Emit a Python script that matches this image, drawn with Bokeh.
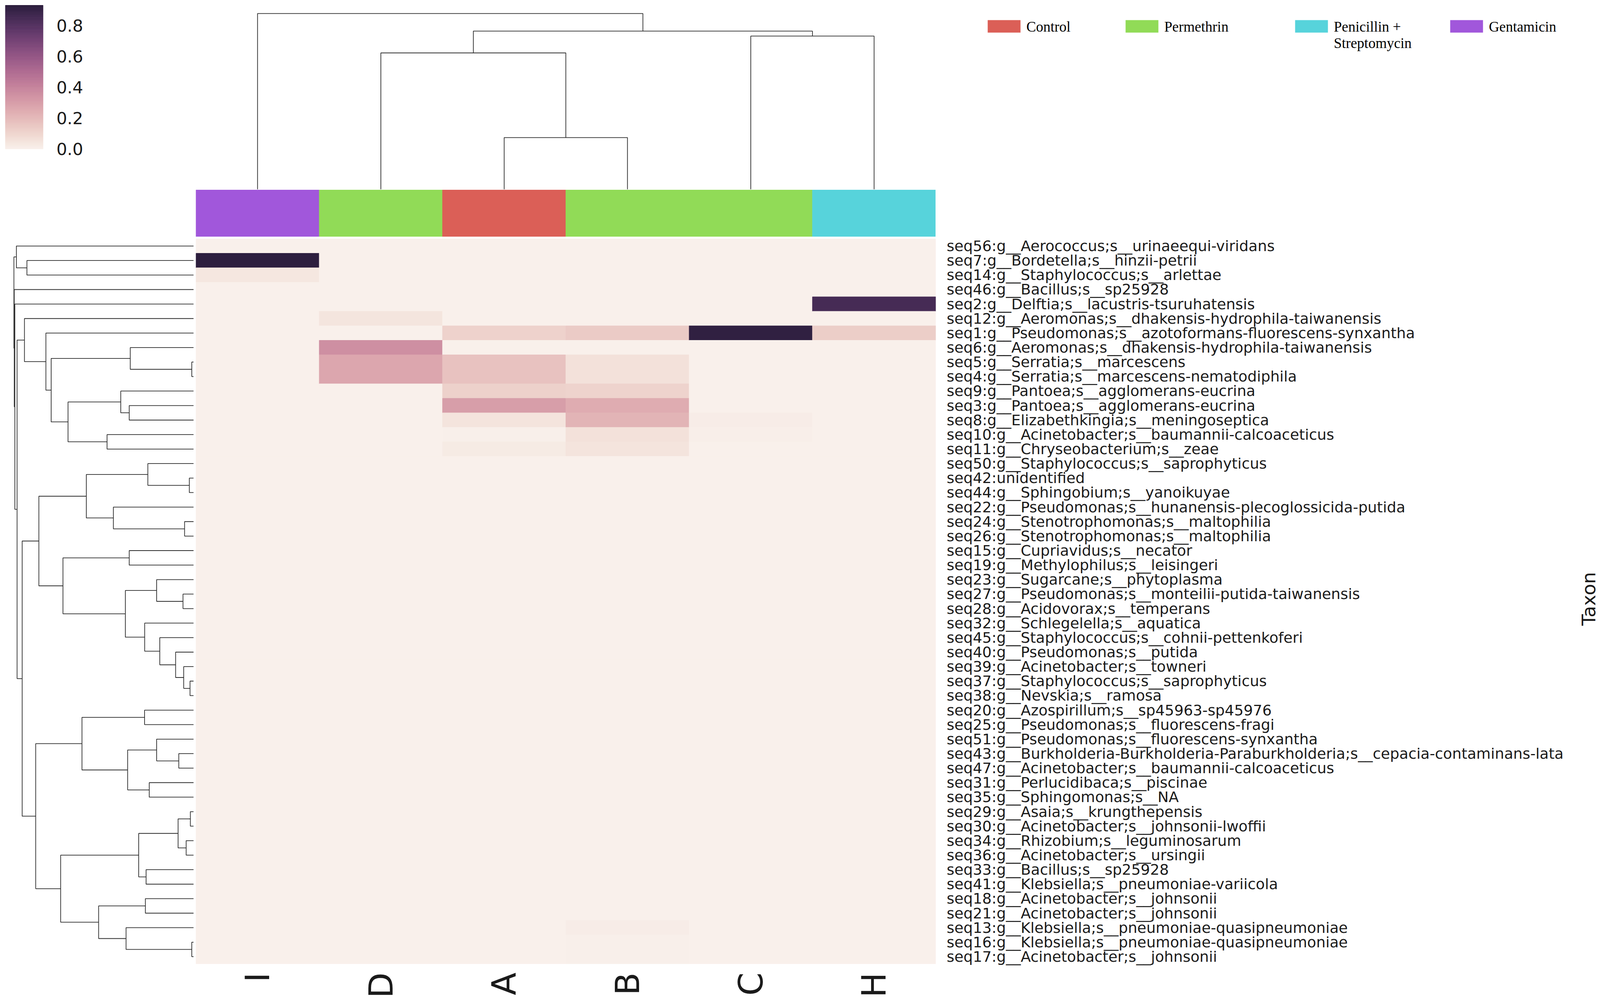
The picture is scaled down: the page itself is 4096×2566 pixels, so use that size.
import math
import numpy as np
from bokeh.plotting import figure
from bokeh.models import (Range1d, FactorRange, FixedTicker, PrintfTickFormatter,
                          ColumnDataSource, LinearColorMapper)
from bokeh.transform import transform
from bokeh.layouts import row, column
from bokeh.embed import file_html
from bokeh.resources import INLINE

# ---------------- data ----------------
samples = ["I", "D", "A", "B", "C", "H"]
sample_group = ["Gentamicin", "Permethrin", "Control", "Permethrin", "Permethrin",
                "Penicillin + Streptomycin"]
groups = ["Control", "Permethrin", "Penicillin + Streptomycin", "Gentamicin"]
group_labels = ["Control", "Permethrin", "Penicillin +\nStreptomycin", "Gentamicin"]
group_colors = ["#db5f57", "#91db57", "#57d3db", "#a157db"]

taxa = [
    "seq56:g__Aerococcus;s__urinaeequi-viridans",
    "seq7:g__Bordetella;s__hinzii-petrii",
    "seq14:g__Staphylococcus;s__arlettae",
    "seq46:g__Bacillus;s__sp25928",
    "seq2:g__Delftia;s__lacustris-tsuruhatensis",
    "seq12:g__Aeromonas;s__dhakensis-hydrophila-taiwanensis",
    "seq1:g__Pseudomonas;s__azotoformans-fluorescens-synxantha",
    "seq6:g__Aeromonas;s__dhakensis-hydrophila-taiwanensis",
    "seq5:g__Serratia;s__marcescens",
    "seq4:g__Serratia;s__marcescens-nematodiphila",
    "seq9:g__Pantoea;s__agglomerans-eucrina",
    "seq3:g__Pantoea;s__agglomerans-eucrina",
    "seq8:g__Elizabethkingia;s__meningoseptica",
    "seq10:g__Acinetobacter;s__baumannii-calcoaceticus",
    "seq11:g__Chryseobacterium;s__zeae",
    "seq50:g__Staphylococcus;s__saprophyticus",
    "seq42:unidentified",
    "seq44:g__Sphingobium;s__yanoikuyae",
    "seq22:g__Pseudomonas;s__hunanensis-plecoglossicida-putida",
    "seq24:g__Stenotrophomonas;s__maltophilia",
    "seq26:g__Stenotrophomonas;s__maltophilia",
    "seq15:g__Cupriavidus;s__necator",
    "seq19:g__Methylophilus;s__leisingeri",
    "seq23:g__Sugarcane;s__phytoplasma",
    "seq27:g__Pseudomonas;s__monteilii-putida-taiwanensis",
    "seq28:g__Acidovorax;s__temperans",
    "seq32:g__Schlegelella;s__aquatica",
    "seq45:g__Staphylococcus;s__cohnii-pettenkoferi",
    "seq40:g__Pseudomonas;s__putida",
    "seq39:g__Acinetobacter;s__towneri",
    "seq37:g__Staphylococcus;s__saprophyticus",
    "seq38:g__Nevskia;s__ramosa",
    "seq20:g__Azospirillum;s__sp45963-sp45976",
    "seq25:g__Pseudomonas;s__fluorescens-fragi",
    "seq51:g__Pseudomonas;s__fluorescens-synxantha",
    "seq43:g__Burkholderia-Burkholderia-Paraburkholderia;s__cepacia-contaminans-lata",
    "seq47:g__Acinetobacter;s__baumannii-calcoaceticus",
    "seq31:g__Perlucidibaca;s__piscinae",
    "seq35:g__Sphingomonas;s__NA",
    "seq29:g__Asaia;s__krungthepensis",
    "seq30:g__Acinetobacter;s__johnsonii-lwoffii",
    "seq34:g__Rhizobium;s__leguminosarum",
    "seq36:g__Acinetobacter;s__ursingii",
    "seq33:g__Bacillus;s__sp25928",
    "seq41:g__Klebsiella;s__pneumoniae-variicola",
    "seq18:g__Acinetobacter;s__johnsonii",
    "seq21:g__Acinetobacter;s__johnsonii",
    "seq13:g__Klebsiella;s__pneumoniae-quasipneumoniae",
    "seq16:g__Klebsiella;s__pneumoniae-quasipneumoniae",
    "seq17:g__Acinetobacter;s__johnsonii",
]

# relative abundance per sample (rows in taxa order)
abund_I = [0, 0.933, 0.04, 0, 0, 0, 0, 0, 0, 0,
           0, 0, 0, 0, 0, 0, 0, 0, 0, 0,
           0, 0, 0, 0, 0, 0, 0, 0, 0, 0,
           0, 0, 0, 0, 0, 0, 0, 0, 0, 0,
           0, 0, 0, 0, 0, 0, 0, 0, 0, 0]
abund_D = [0, 0, 0, 0, 0, 0.045, 0, 0.36, 0.27, 0.27,
           0, 0, 0, 0, 0, 0, 0, 0, 0, 0,
           0, 0, 0, 0, 0, 0, 0, 0, 0, 0,
           0, 0, 0, 0, 0, 0, 0, 0, 0, 0,
           0, 0, 0, 0, 0, 0, 0, 0, 0, 0]
abund_A = [0, 0, 0, 0, 0, 0, 0.115, 0, 0.17, 0.17,
           0.12, 0.30, 0.05, 0.005, 0.025, 0, 0, 0, 0, 0,
           0, 0, 0, 0, 0, 0, 0, 0, 0, 0,
           0, 0, 0, 0, 0, 0, 0, 0, 0, 0,
           0, 0, 0, 0, 0, 0, 0, 0, 0, 0]
abund_B = [0, 0, 0, 0, 0, 0, 0.14, 0, 0.06, 0.06,
           0.11, 0.25, 0.22, 0.06, 0.05, 0, 0, 0, 0, 0,
           0, 0, 0, 0, 0, 0, 0, 0, 0, 0,
           0, 0, 0, 0, 0, 0, 0, 0, 0, 0,
           0, 0, 0, 0, 0, 0, 0, 0.015, 0.005, 0.005]
abund_C = [0, 0, 0, 0, 0, 0, 0.92, 0, 0, 0,
           0, 0, 0.015, 0.01, 0, 0, 0, 0, 0, 0,
           0, 0, 0, 0, 0, 0, 0, 0, 0, 0,
           0, 0, 0, 0, 0, 0, 0, 0, 0, 0,
           0, 0, 0, 0, 0, 0, 0, 0, 0, 0]
abund_H = [0, 0, 0, 0, 0.85, 0, 0.13, 0, 0, 0,
           0, 0, 0, 0, 0, 0, 0, 0, 0, 0,
           0, 0, 0, 0, 0, 0, 0, 0, 0, 0,
           0, 0, 0, 0, 0, 0, 0, 0, 0, 0,
           0, 0, 0, 0, 0, 0, 0, 0, 0, 0]
abundance = [abund_I, abund_D, abund_A, abund_B, abund_C, abund_H]

# column linkage (child_a, child_b, height); leaves 0..5 in display order
col_linkage = [(2, 3, 147), (1, 6, 388), (4, 5, 436), (7, 8, 450), (0, 9, 500)]

# row linkage (child_a, child_b, height); leaves 0..49 in display order
row_linkage = [
    (8, 9, 5), (7, 50, 180), (11, 12, 183), (10, 52, 207), (13, 14, 246),
    (53, 54, 357), (51, 55, 405), (6, 56, 420), (5, 57, 481), (16, 17, 12),
    (15, 59, 130), (19, 20, 25.5), (18, 61, 228), (60, 62, 305), (21, 22, 183),
    (24, 25, 30), (23, 65, 105), (30, 31, 10), (29, 67, 28), (28, 68, 51),
    (27, 69, 96), (26, 70, 139), (66, 71, 194), (64, 72, 371.4), (63, 73, 440),
    (32, 33, 139.3), (35, 36, 42), (34, 76, 105), (37, 38, 126), (77, 78, 187.5),
    (75, 79, 317.4), (39, 40, 9), (41, 42, 21), (81, 82, 44), (43, 44, 135),
    (83, 84, 156), (45, 46, 137), (48, 49, 5), (47, 87, 192), (86, 88, 270),
    (85, 89, 378), (80, 90, 449), (74, 91, 487.5), (58, 92, 502), (4, 93, 508.3),
    (3, 94, 510), (1, 2, 474), (0, 96, 504), (97, 95, 511),
]

cbar_ticks = [0.0, 0.2, 0.4, 0.6, 0.8]
y_title = "Taxon"

# ---------------- helpers ----------------
def cubehelix(n, start=0.0, rot=0.4, gamma=1.0, hue=0.8, light=0.95, dark=0.15):
    x = np.linspace(light, dark, n)
    xg = x ** gamma
    a = hue * xg * (1 - xg) / 2
    phi = 2 * np.pi * (start / 3 + rot * x)
    r = xg + a * (-0.14861 * np.cos(phi) + 1.78277 * np.sin(phi))
    g = xg + a * (-0.29227 * np.cos(phi) - 0.90649 * np.sin(phi))
    b = xg + a * (1.97294 * np.cos(phi))
    out = []
    for rr, gg, bb in zip(r, g, b):
        out.append("#%02x%02x%02x" % tuple(int(round(255 * min(max(c, 0), 1))) for c in (rr, gg, bb)))
    return out


def dendro_lines(n, linkage):
    pos = {i: i + 0.5 for i in range(n)}
    hgt = {i: 0.0 for i in range(n)}
    ps, hs = [], []
    for k, (a, b, h) in enumerate(linkage):
        pa, pb = pos[a], pos[b]
        ps.append([pa, pa, pb, pb])
        hs.append([hgt[a], h, h, hgt[b]])
        pos[n + k] = (pa + pb) / 2
        hgt[n + k] = h
    return ps, hs


def bare(p):
    p.outline_line_color = None
    p.background_fill_color = "white"
    p.border_fill_color = "white"
    p.xgrid.visible = False
    p.ygrid.visible = False
    return p


palette = cubehelix(256)
vmax = max(max(c) for c in abundance)
mapper = LinearColorMapper(palette=palette, low=0, high=vmax)

TXT = "#1a1a1a"
LINE = "#2b2b2b"
TOTAL_W = 4096
ROW1_H, ROW2_H = 606, 1952
LEFT_W, FRAME_W = 501, 1894
TOP_B, BOT_B = 5, 90
FRAME_H = ROW2_H - TOP_B - BOT_B
TAX_W = 80

# ---------------- colour bar ----------------
cb_top_px, cb_bot_px = 13, 381
per_px = vmax / (cb_bot_px - cb_top_px)
cb = figure(width=LEFT_W, height=ROW1_H, output_backend="svg", toolbar_location=None,
            x_range=Range1d(0, 1),
            y_range=Range1d(-(ROW1_H - cb_bot_px) * per_px, vmax + cb_top_px * per_px),
            x_axis_location=None, y_axis_location="right",
            min_border_left=13, min_border_right=LEFT_W - 110,
            min_border_top=0, min_border_bottom=0)
bare(cb)
edges = np.linspace(0, vmax, len(palette) + 1)
cb.quad(left=0, right=1, bottom=edges[:-1], top=edges[1:],
        fill_color=palette, line_color=palette, line_width=1)
cb.yaxis.ticker = FixedTicker(ticks=cbar_ticks)
cb.yaxis.formatter = PrintfTickFormatter(format="%.1f")
cb.yaxis.axis_line_color = None
cb.yaxis.major_tick_line_color = None
cb.yaxis.minor_tick_line_color = None
cb.yaxis.major_label_standoff = 28
cb.yaxis.major_label_text_font = "DejaVu Sans"
cb.yaxis.major_label_text_font_size = "43px"
cb.yaxis.major_label_text_color = TXT

# ---------------- top dendrogram + colour strip ----------------
top = figure(width=FRAME_W, height=ROW1_H, output_backend="svg", toolbar_location=None,
             x_range=Range1d(0, len(samples)), y_range=Range1d(-135.3, 538),
             x_axis_location=None, y_axis_location=None,
             min_border_left=0, min_border_right=0, min_border_top=0, min_border_bottom=0)
bare(top)
cx, cy = dendro_lines(len(samples), col_linkage)
top.multi_line(xs=cx, ys=cy, line_color=LINE, line_width=1.8)
strip_colors = [group_colors[groups.index(g)] for g in sample_group]
top.rect(x=[i + 0.5 for i in range(len(samples))], y=(-2 - 135.3) / 2, width=1, height=133.3,
         fill_color=strip_colors, line_color=strip_colors, line_width=1)

# ---------------- legend ----------------
leg = figure(width=TOTAL_W - LEFT_W - FRAME_W, height=ROW1_H, output_backend="svg",
             toolbar_location=None, x_range=Range1d(LEFT_W + FRAME_W, TOTAL_W),
             y_range=Range1d(ROW1_H, 0), x_axis_location=None, y_axis_location=None,
             min_border_left=0, min_border_right=0, min_border_top=0, min_border_bottom=0)
bare(leg)
patch_left = [2528, 2881, 3315, 3712]
patch_w, patch_h, patch_top = 84, 32, 51
leg.rect(x=[x + patch_w / 2 for x in patch_left], y=patch_top + patch_h / 2,
         width=patch_w, height=patch_h, fill_color=group_colors, line_color=None)
lx, ly, lt = [], [], []
for x0, lab in zip(patch_left, group_labels):
    for k, line in enumerate(lab.split("\n")):
        lx.append(x0 + patch_w + 15)
        ly.append(68 + 42 * k)
        lt.append(line)
leg.text(x=lx, y=ly, text=lt, text_font={"value": "Liberation Serif"},
         text_font_size="37px", text_baseline="middle", text_align="left", text_color="black")

# ---------------- left dendrogram ----------------
left = figure(width=LEFT_W, height=ROW2_H, output_backend="svg", toolbar_location=None,
              x_range=Range1d(550, -6.7), y_range=Range1d(len(taxa), 0),
              x_axis_location=None, y_axis_location=None,
              min_border_left=0, min_border_right=0, min_border_top=TOP_B, min_border_bottom=BOT_B)
bare(left)
rp, rh = dendro_lines(len(taxa), row_linkage)
left.multi_line(xs=rh, ys=rp, line_color=LINE, line_width=1.8)

# ---------------- heatmap ----------------
hx, hy, hv = [], [], []
for j, s in enumerate(samples):
    for i, t in enumerate(taxa):
        hx.append(s)
        hy.append(t)
        hv.append(abundance[j][i])
src = ColumnDataSource(dict(sample=hx, taxon=hy, value=hv))

HEAT_W = TOTAL_W - LEFT_W - TAX_W
heat = figure(width=HEAT_W, height=ROW2_H, output_backend="svg", toolbar_location=None,
              x_range=FactorRange(factors=samples), y_range=FactorRange(factors=taxa[::-1]),
              x_axis_location="below", y_axis_location="right",
              min_border_left=0, min_border_right=HEAT_W - FRAME_W,
              min_border_top=TOP_B, min_border_bottom=BOT_B)
bare(heat)
heat.rect(x="sample", y="taxon", width=1, height=1, source=src,
          fill_color=transform("value", mapper), line_color=transform("value", mapper),
          line_width=1)
for ax in (heat.xaxis, heat.yaxis):
    ax.axis_line_color = None
    ax.major_tick_line_color = None
    ax.minor_tick_line_color = None
    ax.major_tick_out = 0
    ax.major_label_text_font = "DejaVu Sans"
    ax.major_label_text_color = TXT
heat.yaxis.major_label_text_font_size = "37.8px"
heat.yaxis.major_label_standoff = 28
heat.xaxis.major_label_text_font_size = "85px"
heat.xaxis.major_label_orientation = math.pi / 2
heat.xaxis.major_label_standoff = 22

# ---------------- axis title "Taxon" (reads bottom to top) ----------------
tax = figure(width=TAX_W, height=ROW2_H, output_backend="svg", toolbar_location=None,
             x_range=Range1d(0, TAX_W), y_range=Range1d(0, FRAME_H),
             x_axis_location=None, y_axis_location=None,
             min_border_left=0, min_border_right=0, min_border_top=TOP_B, min_border_bottom=BOT_B)
bare(tax)
tax.text(x=[4066 - (TOTAL_W - TAX_W)], y=[FRAME_H - 922], text=[y_title], angle=math.pi / 2,
         text_font={"value": "DejaVu Sans"}, text_font_size="48px",
         text_align="center", text_baseline="middle", text_color=TXT)

layout = column(row(cb, top, leg), row(left, heat, tax))
open("out.html", "w").write(file_html(layout, INLINE, "clustermap"))
